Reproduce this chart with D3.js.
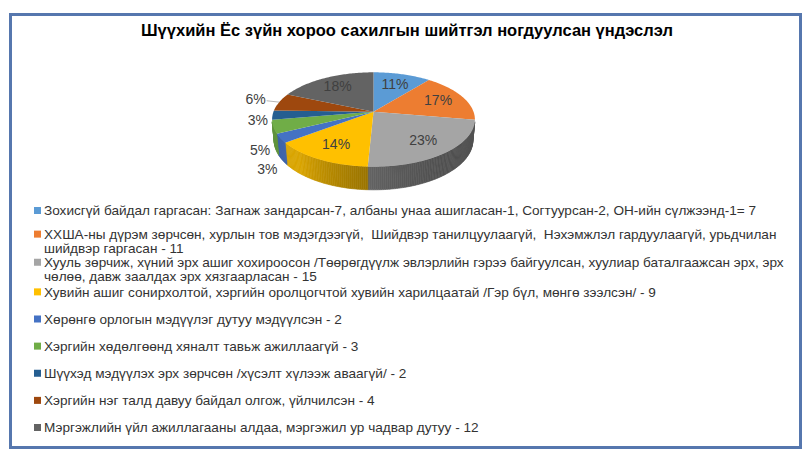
<!DOCTYPE html>
<html>
<head>
<meta charset="utf-8">
<script src="https://cdn.jsdelivr.net/npm/d3@7"></script>
<style>
  body { margin: 0; background: #fff; }
  svg { display: block; font-family: "Liberation Sans", Arial, sans-serif; }
</style>
</head>
<body>
<div id="chart"></div>
<script>
const title = "Шүүхийн Ёс зүйн хороо сахилгын шийтгэл ногдуулсан үндэслэл";

const categories = [
  "Зохисгүй байдал гаргасан: Загнаж зандарсан-7, албаны унаа ашигласан-1, Согтуурсан-2, ОН-ийн сүлжээнд-1= 7",
  "ХХША-ны дүрэм зөрчсөн, хурлын тов мэдэгдээгүй,  Шийдвэр танилцуулаагүй,  Нэхэмжлэл гардуулаагүй, урьдчилан шийдвэр гаргасан - 11",
  "Хууль зөрчиж, хүний эрх ашиг хохироосон /Төөрөгдүүлж эвлэрлийн гэрээ байгуулсан, хуулиар баталгаажсан эрх, эрх чөлөө, давж заалдах эрх хязгаарласан - 15",
  "Хувийн ашиг сонирхолтой, хэргийн оролцогчтой хувийн харилцаатай /Гэр бүл, мөнгө зээлсэн/ - 9",
  "Хөрөнгө орлогын мэдүүлэг дутуу мэдүүлсэн - 2",
  "Хэргийн хөдөлгөөнд хяналт тавьж ажиллаагүй - 3",
  "Шүүхэд мэдүүлэх эрх зөрчсөн /хүсэлт хүлээж аваагүй/ - 2",
  "Хэргийн нэг талд давуу байдал олгож, үйлчилсэн - 4",
  "Мэргэжлийн үйл ажиллагааны алдаа, мэргэжил ур чадвар дутуу - 12"
];
const values = [7, 11, 15, 9, 2, 3, 2, 4, 12];
const colors = ["#5B9BD5", "#ED7D31", "#A5A5A5", "#FFC000", "#4472C4",
                "#70AD47", "#255E91", "#9E480E", "#636363"];

window.addEventListener("load", main);

function main() {
  const width = 810, height = 452;
  const svg = d3.select("#chart").append("svg")
    .attr("width", width)
    .attr("height", height);

  // chart frame
  svg.append("rect")
    .attr("x", 10.5).attr("y", 14.5)
    .attr("width", 790).attr("height", 433)
    .attr("fill", "#fff")
    .attr("stroke", "#5677AE")
    .attr("stroke-width", 3);

  svg.append("text")
    .attr("x", 407).attr("y", 36)
    .attr("text-anchor", "middle")
    .attr("font-size", 16.5)
    .attr("font-weight", "bold")
    .attr("fill", "#000")
    .text(title);

  // --- 3d pie: disc of radius 1 seen from above with a little perspective
  const cx = 373.5, cy = 111.7;
  const phi = Math.asin(0.459), D = 5.366, f = 536.6, depth = 0.235;
  const cosP = Math.cos(phi), sinP = Math.sin(phi);

  function project(X, Y, Z) {
    const yc = Y * cosP + Z * sinP;
    const zc = D + Z * cosP - Y * sinP;
    return [cx + f * X / zc, cy - f * yc / zc];
  }
  const rim = (a, Y, r = 1) => project(r * Math.sin(a), Y, r * Math.cos(a));

  const total = d3.sum(values);
  const arcs = d3.pie().sort(null).value(d => d)(values);
  const pct = d3.format(".0%");

  // visible part of the outer wall
  const c = 1 / (D * cosP);
  const wallMin = Math.PI - Math.acos(c), wallMax = Math.PI + Math.acos(c);
  const step = Math.PI / 180;

  const wallShade = a => 0.45 + 1.6 * Math.max(0, Math.cos(a - 2.27));

  const walls = svg.append("g").attr("id", "walls");
  arcs.forEach((d, i) => {
    const a0 = Math.max(d.startAngle, wallMin), a1 = Math.min(d.endAngle, wallMax);
    if (a1 <= a0) return;
    for (let a = a0; a < a1; a += step) {
      const b = Math.min(a + step, a1);
      const pts = [rim(a, 0), rim(b, 0), rim(b, -depth), rim(a, -depth)];
      const col = d3.color(colors[i]).darker(wallShade((a + b) / 2)).formatHex();
      walls.append("path")
        .attr("d", "M" + pts.join("L") + "Z")
        .attr("fill", col)
        .attr("stroke", col)
        .attr("stroke-width", 0.6);
    }
  });

  const topFace = d => {
    const pts = [project(0, 0, 0)];
    const n = Math.max(2, Math.ceil((d.endAngle - d.startAngle) / step));
    for (let k = 0; k <= n; k++) {
      pts.push(rim(d.startAngle + (d.endAngle - d.startAngle) * k / n, 0));
    }
    return "M" + pts.join("L") + "Z";
  };

  svg.append("g").attr("id", "slices")
    .selectAll("path")
    .data(arcs)
    .join("path")
    .attr("d", topFace)
    .attr("fill", (d, i) => colors[i]);

  // data labels
  const labels = svg.append("g")
    .attr("font-size", 14)
    .attr("fill", "#404040");

  arcs.forEach(d => {
    const a = (d.startAngle + d.endAngle) / 2;
    const share = d.value / total;
    if (share >= 0.08) {
      const p = rim(a, 0, 0.72);
      labels.append("text")
        .attr("x", p[0]).attr("y", p[1])
        .attr("dy", "0.35em")
        .attr("text-anchor", "middle")
        .text(pct(share));
    } else if (Math.cos(a) > 0) {
      const p = rim(a, 0, 1.15), q = rim(a, 0, 1.0);
      labels.append("line")
        .attr("x1", p[0] + 1).attr("y1", p[1])
        .attr("x2", q[0]).attr("y2", q[1])
        .attr("stroke", "#a6a6a6").attr("stroke-width", 0.8);
      labels.append("text")
        .attr("x", p[0]).attr("y", p[1] - 2)
        .attr("dy", "0.35em")
        .attr("text-anchor", "end")
        .text(pct(share));
    } else {
      const w = Math.min(1, -Math.cos(a) * 3);
      const p = rim(a, -depth * w, 1.0);
      labels.append("text")
        .attr("x", p[0] - 5)
        .attr("y", p[1] + 4 * w + 20 * Math.max(0, -Math.cos(a) - 0.3))
        .attr("dy", "0.35em")
        .attr("text-anchor", "end")
        .text(pct(share));
    }
  });

  // --- legend
  const y = d3.scalePoint().domain(d3.range(categories.length)).range([210.5, 427.5]);
  const legend = svg.append("g")
    .attr("font-size", 13.6)
    .attr("fill", "#333");
  const maxWidth = 745, lineH = 14;
  let prevMulti = 0;

  categories.forEach((cat, i) => {
    const t = legend.append("text").attr("x", 44);
    // wrap words
    const words = cat.split(" ");
    let lines = [], line = "";
    const probe = legend.append("text").attr("visibility", "hidden");
    words.forEach(wd => {
      const test = line === "" ? wd : line + " " + wd;
      probe.text(test);
      if (probe.node().getComputedTextLength() > maxWidth && line !== "") {
        lines.push(line);
        line = wd;
      } else line = test;
    });
    lines.push(line);
    probe.remove();

    const y0 = y(i) - (lines.length - 1) * (3.5 - prevMulti);
    prevMulti = lines.length > 1 ? 1 : 0;
    lines.forEach((l, k) => {
      t.append("tspan")
        .attr("x", 44)
        .attr("y", y0 + k * lineH)
        .attr("dy", "0.35em")
        .attr("xml:space", "preserve")
        .text(l);
    });
    legend.append("rect")
      .attr("x", 34).attr("y", y0 - 3.5)
      .attr("width", 7).attr("height", 7)
      .attr("fill", colors[i]);
  });
}
</script>
</body>
</html>
